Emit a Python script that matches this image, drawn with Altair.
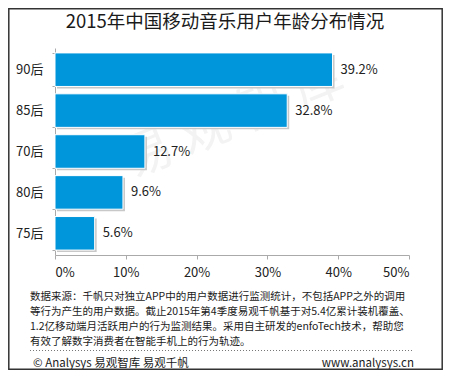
import altair as alt
import pandas as pd

# ---- data ----
groups = ["90后", "85后", "70后", "80后", "75后"]
shares = [39.2, 32.8, 12.7, 9.6, 5.6]
share_labels = ["39.2%", "32.8%", "12.7%", "9.6%", "5.6%"]
x_ticks = [0, 10, 20, 30, 40, 50]
title_text = "2015年中国移动音乐用户年龄分布情况"
notes = [
    "数据来源：千帆只对独立APP中的用户数据进行监测统计，不包括APP之外的调用",
    "等行为产生的用户数据。截止2015年第4季度易观千帆基于对5.4亿累计装机覆盖、",
    "1.2亿移动端月活跃用户的行为监测结果。采用自主研发的enfoTech技术，帮助您",
    "有效了解数字消费者在智能手机上的行为轨迹。",
]
footer_left = "© Analysys 易观智库 易观千帆"
footer_right = "www.analysys.cn"
watermark = "易 观 智 库"

df = pd.DataFrame({"group": groups, "share": shares, "label": share_labels})

FONT = "Noto Sans CJK SC"
W, H = 354, 207
PAD = {"left": 47, "top": 40, "right": 34, "bottom": 115}

y_enc = alt.Y(
    "group:N",
    sort=groups,
    scale=alt.Scale(paddingInner=0.18, paddingOuter=0.12),
    axis=alt.Axis(
        title=None, tickBand="extent", tickSize=3, labelPadding=9,
        labelFontSize=13, labelColor="#222", labelFont=FONT,
        domainColor="#aaaaaa", tickColor="#aaaaaa",
    ),
)
x_enc = alt.X(
    "share:Q",
    scale=alt.Scale(domain=[0, 50], nice=False),
    axis=alt.Axis(
        title=None, values=x_ticks, labelExpr="datum.value + '%'", grid=False,
        tickSize=4, labelPadding=7, labelFontSize=13, labelColor="#222",
        labelFont=FONT, domainColor="#aaaaaa", tickColor="#aaaaaa",
    ),
)

base = alt.Chart(df)
one = pd.DataFrame({"a": [0]})


def text_mark(txt, x, y, **kw):
    return alt.Chart(pd.DataFrame({"t": [txt]})).mark_text(font=FONT, **kw).encode(
        text="t:N", x=alt.value(x), y=alt.value(y)
    )


wm = text_mark(watermark, 179, 72, fontSize=50, angle=338, color="#f3f3f3",
               align="center", baseline="middle")

shadow = base.mark_bar(color="#c8c8c8", xOffset=2, yOffset=2).encode(x=x_enc, y=y_enc)
bars = base.mark_bar(color="#0096DB", stroke="white", strokeWidth=1).encode(x=x_enc, y=y_enc)
vals = base.mark_text(align="left", baseline="middle", dx=8, fontSize=13,
                      color="#222", font=FONT).encode(x="share:Q", y=alt.Y("group:N", sort=groups), text="label:N")

title = text_mark(title_text, 170, -26, fontSize=18.5, color="#1a1a1a",
                  align="center", baseline="middle")

note_layers = [
    text_mark(t, -25, 248.5 + i * 15.3, fontSize=10.5, color="#1a1a1a",
              align="left", baseline="middle")
    for i, t in enumerate(notes)
]

dots = alt.Chart(one).mark_rule(
    color="#777777", strokeDash=[1, 2], strokeWidth=1
).encode(x=alt.value(-25), x2=alt.value(357), y=alt.value(302.5))

f_left = text_mark(footer_left, -22, 315.5, fontSize=11.5, color="#1a1a1a",
                   align="left", baseline="middle")
f_right = text_mark(footer_right, 359, 315.5, fontSize=11.5, color="#1a1a1a",
                    align="right", baseline="middle")

border = alt.Chart(one).mark_rect(
    fillOpacity=0, stroke="#333333", strokeWidth=1.5
).encode(x=alt.value(-46.2), x2=alt.value(387.2), y=alt.value(-39.2), y2=alt.value(321.2))

chart = alt.layer(
    wm, shadow, bars, vals, title, *note_layers, dots, f_left, f_right, border
).properties(
    width=W, height=H, padding=PAD, autosize=alt.AutoSizeParams(type="none"),
    background="white",
).configure_view(stroke=None)

chart.save("out.html", embed_options={"renderer": "svg", "actions": False})
